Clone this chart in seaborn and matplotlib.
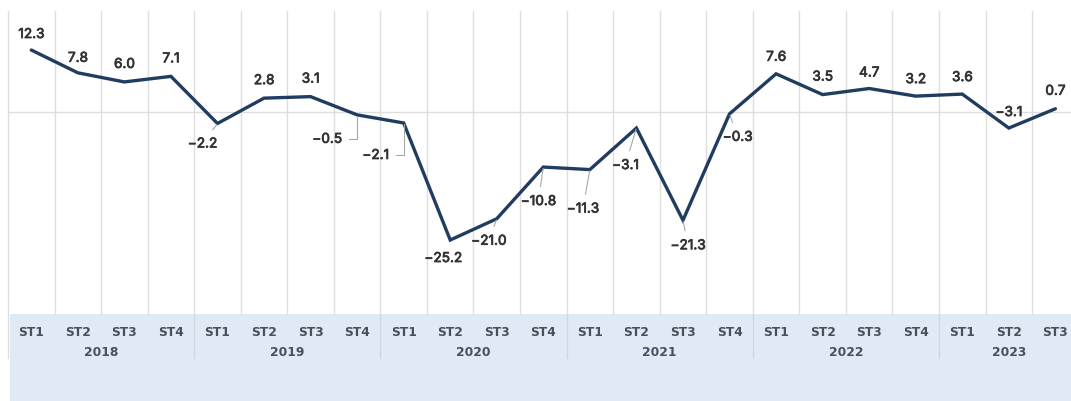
import matplotlib
matplotlib.use("Agg")
import matplotlib.pyplot as plt
from matplotlib.patches import Rectangle
from matplotlib.lines import Line2D
import matplotlib.patheffects as pe
import seaborn as sns
import pandas as pd
import numpy as np

# ---- data ----
years = ["2018", "2019", "2020", "2021", "2022", "2023"]
quarters = ["ST1", "ST2", "ST3", "ST4"] * 5 + ["ST1", "ST2", "ST3"]
values = [12.3, 7.8, 6.0, 7.1,
          -2.2, 2.8, 3.1, -0.5,
          -2.1, -25.2, -21.0, -10.8,
          -11.3, -3.1, -21.3, -0.3,
          7.6, 3.5, 4.7, 3.2,
          3.6, -3.1, 0.7]
year_sizes = [4, 4, 4, 4, 4, 3]

# label offsets in pixels (dx, dy), positive dy = up
label_offsets = [(0, 16), (0, 15), (0, 18), (0, 18),
                 (-15, -20), (0, 18), (0, 18), (-30, -24),
                 (-28, -32), (-7, -18), (-8, -22), (-5, -34),
                 (-7, -39), (-11, -37), (5, -25), (8, -23),
                 (0, 17), (0, 18), (0, 16), (0, 17),
                 (0, 17), (0, 16), (0, 18)]
leaders = [None, None, None, None,
           "line", None, None, "elbow",
           "elbow", None, "line", "line",
           "line", "line", "line", "line",
           None, None, None, None,
           None, None, None]

df = pd.DataFrame({"idx": np.arange(len(values)), "value": values})

W, H, DPI = 1071, 401, 100
sns.set_theme(style="white")
plt.rcParams["font.family"] = ["Inter", "DejaVu Sans"]

fig = plt.figure(figsize=(W / DPI, H / DPI), dpi=DPI)
fig.patch.set_facecolor("white")

# axes pixel geometry
step = 46.55
ax_left_px = 8.0
ax_right_px = ax_left_px + step * len(values)
ax_top_px = 11.0
ax_bot_px = 315.0
ax = fig.add_axes([ax_left_px / W, 1 - ax_bot_px / H,
                   (ax_right_px - ax_left_px) / W, (ax_bot_px - ax_top_px) / H])
ax.set_facecolor("none")

# shaded axis label band
band = Rectangle((10 / W, 0), 1 - 10 / W, (H - 313.5) / H, transform=fig.transFigure,
                 facecolor="#dfeaf6", edgecolor="none", zorder=-10)
fig.add_artist(band)

grid_c = "#dedede"
n = len(values)
ax.set_xlim(-0.5, n - 0.5)
ax.set_ylim(-40, 20)

# vertical gridlines at category boundaries
for k in range(n):
    ax.axvline(k + 0.5, color=grid_c, lw=1.0, zorder=1)
ax.axhline(0, color=grid_c, lw=1.0, zorder=1)

# left edge line extending down
px_down = 358.0
ydown_axes = -(px_down - ax_bot_px) / (ax_bot_px - ax_top_px)
ax.add_line(Line2D([-0.5, -0.5], [ydown_axes, 1.0],
                   transform=ax.get_xaxis_transform(), color=grid_c, lw=1.0,
                   clip_on=False, zorder=1))
# year separators
pos = 0
for s in year_sizes[:-1]:
    pos += s
    ax.add_line(Line2D([pos - 0.5, pos - 0.5], [ydown_axes, 0.0],
                       transform=ax.get_xaxis_transform(), color="#cfd6de", lw=1.0,
                       clip_on=False, zorder=1))

sns.lineplot(data=df, x="idx", y="value", ax=ax, color="#203c5f", linewidth=2.4,
             zorder=5, legend=False)
ax.lines[-1].set_solid_joinstyle("miter")

label_font = dict(fontsize=9.8, fontweight="normal", color="#333333",
                  path_effects=[pe.withStroke(linewidth=0.55, foreground="#333333")])

# data labels
for i, v in enumerate(values):
    dx, dy = label_offsets[i]
    txt = f"{v:.1f}".replace("-", "\u2212")
    kind = leaders[i]
    if kind is None:
        ax.annotate(txt, (i, v), xytext=(dx * 0.72, dy * 0.72), textcoords="offset points",
                    ha="center", va="center", zorder=6, **label_font)
    else:
        conn = "angle,angleA=0,angleB=90,rad=0" if kind == "elbow" else "arc3"
        ann = ax.annotate(txt, (i, v), xytext=(dx * 0.72, dy * 0.72), textcoords="offset points",
                          ha="center", va="center", zorder=6, **label_font,
                          arrowprops=dict(arrowstyle="-", color="#a8a8a8", lw=0.8,
                                          shrinkA=3, shrinkB=1, connectionstyle=conn))
        ann.arrow_patch.set_path_effects([])

tick_font = dict(fontsize=8.8, fontweight="bold", color="#4a505a", family=["DejaVu Sans"])

# x tick labels
ax.set_xticks(np.arange(n))
ax.set_xticklabels(quarters, **tick_font)
ax.tick_params(axis="x", length=0, pad=8)
ax.set_yticks([])
ax.set_xlabel("")
ax.set_ylabel("")
for sp in ax.spines.values():
    sp.set_visible(False)

# year labels
yy = -(352 - ax_bot_px) / (ax_bot_px - ax_top_px)
pos = 0
for yname, s in zip(years, year_sizes):
    center = pos + (s - 1) / 2
    ax.text(center, yy, yname, transform=ax.get_xaxis_transform(), ha="center", va="center",
            clip_on=False, **tick_font)
    pos += s

fig.savefig("out.png", dpi=DPI)
